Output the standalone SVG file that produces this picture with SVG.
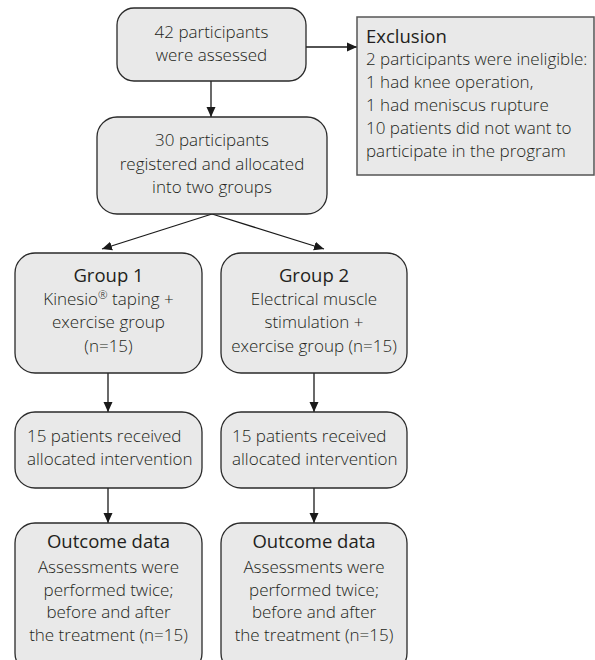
<svg xmlns="http://www.w3.org/2000/svg" width="595" height="660" viewBox="0 0 595 660">
<defs>
<marker id="ah" viewBox="0 0 10 10" refX="10" refY="5" markerWidth="10" markerHeight="10" markerUnits="userSpaceOnUse" orient="auto">
<path d="M0,0.5 L10,5 L0,9.5 Z" fill="#1a1a1a"/>
</marker>
<style>
.box{fill:#e9e9e9;stroke:#2a2a2a;stroke-width:1.3}
.ex{fill:#e9e9e9;stroke:#555;stroke-width:1.5}
text{font-family:"Open Sans","Noto Sans","Liberation Sans",sans-serif;font-size:17px;font-weight:300;fill:#231f20}
.c{text-anchor:middle}
.h{font-weight:500;font-size:18.5px}
.ln{stroke:#1a1a1a;stroke-width:1.3;fill:none;marker-end:url(#ah)}
</style>
</defs>
<g id="connectors">
<line class="ln" x1="211" y1="81" x2="211" y2="117"/>
<line class="ln" x1="306" y1="47" x2="357" y2="47"/>
<line class="ln" x1="212" y1="214" x2="102" y2="249"/>
<line class="ln" x1="212" y1="214" x2="324" y2="249"/>
<line class="ln" x1="108" y1="373" x2="108" y2="412"/>
<line class="ln" x1="314" y1="373" x2="314" y2="412"/>
<line class="ln" x1="108" y1="488" x2="108" y2="523"/>
<line class="ln" x1="314" y1="488" x2="314" y2="523"/>
</g>
<g id="assessed">
<rect class="box" x="117" y="8" width="189" height="73" rx="17"/>
<text class="c" x="211.5" y="38">42 participants</text>
<text class="c" x="211.5" y="61">were assessed</text>
</g>
<g id="exclusion">
<rect class="ex" x="357" y="17" width="237" height="158"/>
<text class="h" x="366" y="43">Exclusion</text>
<text x="366" y="65">2 participants were ineligible:</text>
<text x="366" y="88">1 had knee operation,</text>
<text x="366" y="111">1 had meniscus rupture</text>
<text x="366" y="134">10 patients did not want to</text>
<text x="366" y="157">participate in the program</text>
</g>
<g id="registered">
<rect class="box" x="97" y="117" width="230" height="97" rx="20"/>
<text class="c" x="212" y="146">30 participants</text>
<text class="c" x="212" y="170">registered and allocated</text>
<text class="c" x="212" y="193">into two groups</text>
</g>
<g id="group1">
<rect class="box" x="15" y="253" width="187" height="120" rx="20"/>
<text class="c h" x="108.5" y="282">Group 1</text>
<text class="c" x="108.5" y="305">Kinesio<tspan font-size="11.5" dy="-6">®</tspan><tspan dy="6"> taping +</tspan></text>
<text class="c" x="108.5" y="328">exercise group</text>
<text class="c" x="108.5" y="352">(n=15)</text>
</g>
<g id="group2">
<rect class="box" x="221" y="253" width="186" height="120" rx="20"/>
<text class="c h" x="314" y="282">Group 2</text>
<text class="c" x="314" y="305">Electrical muscle</text>
<text class="c" x="314" y="328">stimulation +</text>
<text class="c" x="314" y="352">exercise group (n=15)</text>
</g>
<g id="received1">
<rect class="box" x="15" y="412" width="187" height="76" rx="20"/>
<text x="27" y="442">15 patients received</text>
<text x="27" y="465">allocated intervention</text>
</g>
<g id="received2">
<rect class="box" x="221" y="412" width="186" height="76" rx="20"/>
<text x="232" y="442">15 patients received</text>
<text x="232" y="465">allocated intervention</text>
</g>
<g id="outcome1">
<rect class="box" x="15" y="523" width="187" height="150" rx="20"/>
<text class="c h" x="108.5" y="548">Outcome data</text>
<text class="c" x="108.5" y="573">Assessments were</text>
<text class="c" x="108.5" y="596">performed twice;</text>
<text class="c" x="108.5" y="618">before and after</text>
<text class="c" x="108.5" y="641">the treatment (n=15)</text>
</g>
<g id="outcome2">
<rect class="box" x="221" y="523" width="186" height="150" rx="20"/>
<text class="c h" x="314" y="548">Outcome data</text>
<text class="c" x="314" y="573">Assessments were</text>
<text class="c" x="314" y="596">performed twice;</text>
<text class="c" x="314" y="618">before and after</text>
<text class="c" x="314" y="641">the treatment (n=15)</text>
</g>
</svg>
